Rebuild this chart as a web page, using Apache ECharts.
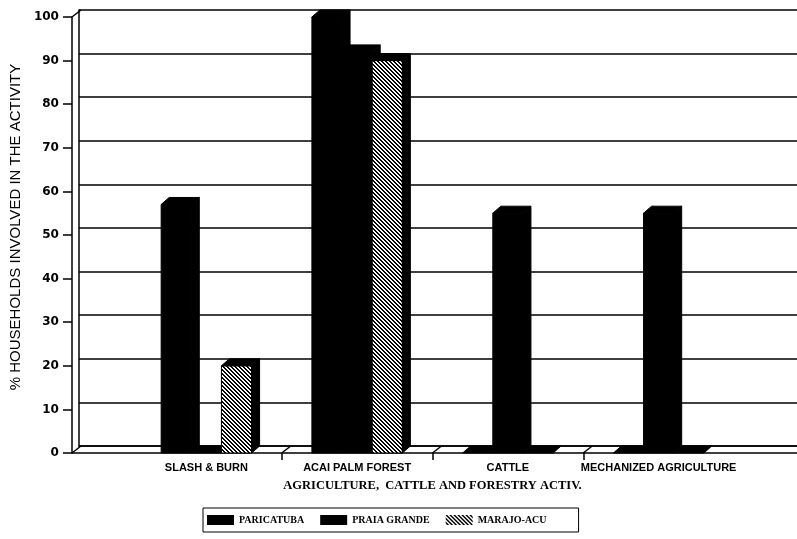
<!DOCTYPE html>
<html>
<head>
<meta charset="utf-8">
<script src="https://cdn.jsdelivr.net/npm/echarts@6/dist/echarts.min.js"></script>
<style>
  html, body { margin: 0; padding: 0; background: #fff; }
  #chart { width: 797px; height: 539px; }
</style>
</head>
<body>
<div id="chart"></div>
<script>
// Activities (categories) and share of households per community, in percent
const CATEGORIES = ['SLASH & BURN', 'ACAI PALM FOREST', 'CATTLE', 'MECHANIZED AGRICULTURE'];
const SERIES_NAMES = ['PARICATUBA', 'PRAIA GRANDE', 'MARAJO-ACU'];
const PARICATUBA = [57, 100, 0, 0];
const PRAIA_GRANDE = [0, 92, 55, 55];
const MARAJO_ACU = [20, 90, 0, 0];
const Y_MIN = 0, Y_MAX = 100, Y_STEP = 10;
const X_TITLE = 'AGRICULTURE,  CATTLE AND FORESTRY ACTIV.';
const Y_TITLE = '% HOUSEHOLDS INVOLVED IN THE ACTIVITY';

// Category boundaries (one more than categories), used for the floor ticks
const BOUNDARIES = CATEGORIES.concat(['end']).map((_, i) => String(i));

// 3D depth of the bars and of the back wall (pixels)
const BAR_DX = 8, BAR_DY = -7;
const WALL_DX = 9, WALL_DY = -7;
const BAR_RATIO = 0.2;

// Diagonal hatch used for the third community
function makeHatch() {
  const n = 4;
  const c = document.createElement('canvas');
  c.width = n; c.height = n;
  const ctx = c.getContext('2d');
  const img = ctx.createImageData(n, n);
  for (let y = 0; y < n; y++) {
    for (let x = 0; x < n; x++) {
      const k = ((x - y) % n + n) % n;
      const v = (k === 0 || k === 1) ? 0 : 255;
      const p = (y * n + x) * 4;
      img.data[p] = v; img.data[p + 1] = v; img.data[p + 2] = v; img.data[p + 3] = 255;
    }
  }
  ctx.putImageData(img, 0, 0);
  return { image: c, repeat: 'repeat' };
}
const HATCH = makeHatch();

function bar3d(slot, frontFill) {
  return function (params, api) {
    const cat = api.value(0);
    const val = api.value(1);
    const base = api.coord([cat, 0]);
    const top = api.coord([cat, val]);
    const band = api.size([1, 0])[0];
    const w = band * BAR_RATIO;
    const x0 = base[0] + (slot - 1) * w - w / 2;
    const x1 = x0 + w;
    const yb = base[1], yt = top[1];
    const children = [];
    if (yb - yt > 0.5) {
      children.push({
        type: 'rect',
        shape: { x: x0, y: yt, width: w, height: yb - yt },
        style: { fill: frontFill, stroke: '#000', lineWidth: 1 }
      });
      children.push({
        type: 'polygon',
        shape: { points: [[x1, yt], [x1 + BAR_DX, yt + BAR_DY], [x1 + BAR_DX, yb + BAR_DY], [x1, yb]] },
        style: { fill: '#000', stroke: '#000', lineWidth: 1 }
      });
    }
    children.push({
      type: 'polygon',
      shape: { points: [[x0, yt], [x1, yt], [x1 + BAR_DX, yt + BAR_DY], [x0 + BAR_DX, yt + BAR_DY]] },
      style: { fill: '#000', stroke: '#000', lineWidth: 1 }
    });
    return { type: 'group', children: children };
  };
}

function barSeries(name, values, slot, fill) {
  return {
    name: name,
    type: 'custom',
    xAxisIndex: 2,
    yAxisIndex: 2,
    clip: false,
    z: 5 + slot,
    itemStyle: { color: fill },
    renderItem: bar3d(slot, fill),
    data: values.map((v, i) => [i, v])
  };
}

const chart = echarts.init(document.getElementById('chart'), null, { renderer: 'canvas' });

const option = {
  backgroundColor: '#fff',
  animation: false,
  grid: [
    { left: 79, top: 10, right: 0, height: 436 },   // back wall
    { left: 70, top: 17, right: 0, height: 436 },   // front frame
    { left: 131, top: 17, width: 603, height: 436 } // category band
  ],
  xAxis: [
    { gridIndex: 0, type: 'value', min: 0, max: 1,
      axisLine: { show: true, lineStyle: { color: '#000', width: 1.5 } },
      axisTick: { show: false }, axisLabel: { show: false }, splitLine: { show: false } },
    { gridIndex: 1, type: 'value', min: 0, max: 1,
      axisLine: { show: true, lineStyle: { color: '#000', width: 1.5 } },
      axisTick: { show: false }, axisLabel: { show: false }, splitLine: { show: false } },
    { gridIndex: 2, type: 'category', position: 'bottom', data: CATEGORIES,
      axisLine: { show: false }, axisTick: { show: false },
      axisLabel: { interval: 0, margin: 9, color: '#000',
        fontFamily: 'Liberation Sans', fontWeight: 'bold', fontSize: 11 },
      name: X_TITLE, nameLocation: 'middle', nameGap: 26,
      nameTextStyle: { color: '#000', fontFamily: 'Liberation Serif', fontWeight: 'bold', fontSize: 12.5 } },
    { gridIndex: 2, type: 'category', position: 'bottom', data: BOUNDARIES, boundaryGap: false,
      axisLine: { show: false },
      axisTick: { show: true, length: 7, interval: (i) => i > 0 && i < BOUNDARIES.length - 1,
        lineStyle: { color: '#000', width: 1.5 } },
      axisLabel: { show: false } }
  ],
  yAxis: [
    { gridIndex: 0, type: 'value', min: Y_MIN, max: Y_MAX, interval: Y_STEP,
      axisLine: { show: true, lineStyle: { color: '#000', width: 1.5 } },
      axisTick: { show: false }, axisLabel: { show: false },
      splitLine: { show: true, lineStyle: { color: '#000', width: 1.5 } } },
    { gridIndex: 1, type: 'value', min: Y_MIN, max: Y_MAX, interval: Y_STEP,
      axisLine: { show: true, lineStyle: { color: '#000', width: 1.5 } },
      axisTick: { show: true, length: 9, lineStyle: { color: '#000', width: 1.5 } },
      axisLabel: { margin: 13, color: '#000', fontFamily: 'DejaVu Sans', fontWeight: 'bold', fontSize: 12 },
      splitLine: { show: false },
      name: Y_TITLE, nameLocation: 'middle', nameGap: 40,
      nameTextStyle: { color: '#000', fontFamily: 'Liberation Sans', fontSize: 15, padding: [0, 0, 0, 16] } },
    { gridIndex: 2, type: 'value', min: Y_MIN, max: Y_MAX, show: false }
  ],
  legend: {
    data: SERIES_NAMES,
    left: 203, top: 508,
    icon: 'rect',
    itemWidth: 27, itemHeight: 10, itemGap: 16,
    padding: [7, 32, 7, 4],
    borderColor: '#000', borderWidth: 1,
    textStyle: { color: '#000', fontFamily: 'Liberation Serif', fontWeight: 'bold', fontSize: 10 }
  },
  series: [
    // slanted floor edges at the category boundaries
    {
      type: 'custom', xAxisIndex: 3, yAxisIndex: 2, silent: true, clip: false, z: 3,
      data: BOUNDARIES.slice(1, -1).map((b, i) => [i + 1, 0]),
      renderItem: function (params, api) {
        const p = api.coord([api.value(0), 0]);
        return { type: 'line',
          shape: { x1: p[0], y1: p[1], x2: p[0] + WALL_DX, y2: p[1] + WALL_DY },
          style: { stroke: '#000', lineWidth: 1.5 } };
      }
    },
    // corners joining the front frame to the back wall
    {
      type: 'custom', xAxisIndex: 1, yAxisIndex: 1, silent: true, clip: false, z: 3,
      data: [[0, 0]],
      renderItem: function (params, api) {
        const cs = params.coordSys;
        const yTop = api.coord([0, Y_MAX])[1];
        const yBot = api.coord([0, Y_MIN])[1];
        return { type: 'group', children: [
          { type: 'line', shape: { x1: cs.x, y1: yTop, x2: cs.x + WALL_DX, y2: yTop + WALL_DY },
            style: { stroke: '#000', lineWidth: 1.5 } },
          { type: 'line', shape: { x1: cs.x, y1: yBot, x2: cs.x + WALL_DX, y2: yBot + WALL_DY },
            style: { stroke: '#000', lineWidth: 1.5 } }
        ] };
      }
    },
    barSeries(SERIES_NAMES[0], PARICATUBA, 0, '#000'),
    barSeries(SERIES_NAMES[1], PRAIA_GRANDE, 1, '#000'),
    barSeries(SERIES_NAMES[2], MARAJO_ACU, 2, HATCH)
  ]
};

chart.setOption(option);
</script>
</body>
</html>
